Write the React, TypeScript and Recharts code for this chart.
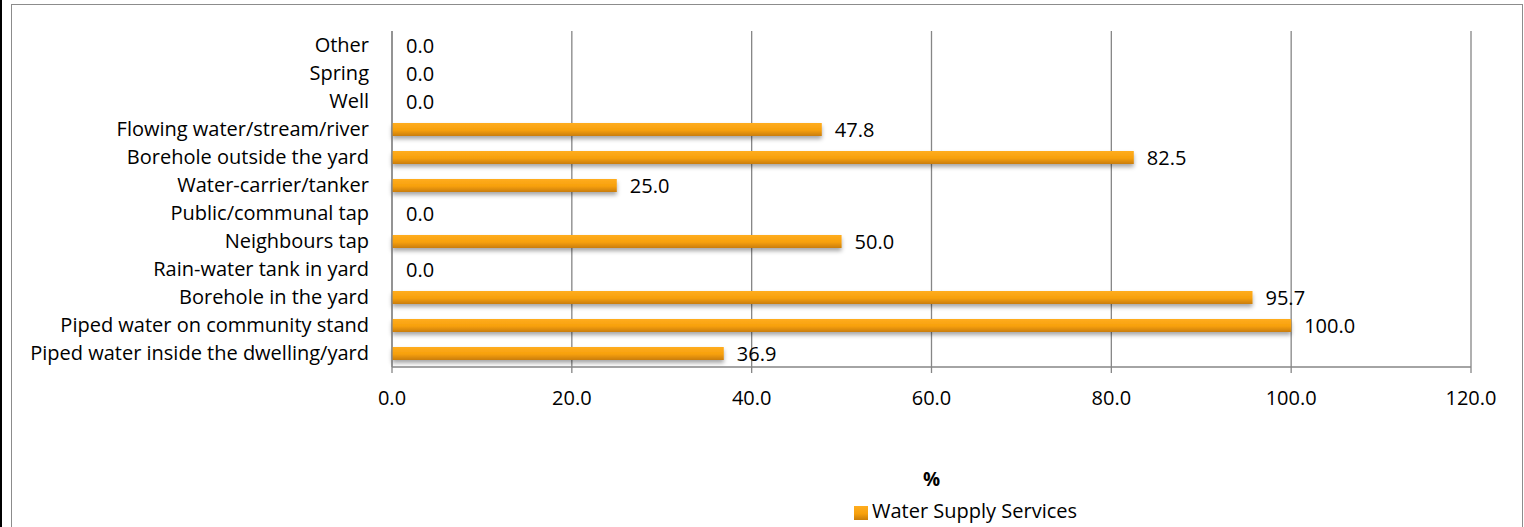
import { BarChart, Bar, XAxis, YAxis, CartesianGrid, LabelList, Legend, Cell } from 'recharts'

const categories = [
  'Other',
  'Spring',
  'Well',
  'Flowing water/stream/river',
  'Borehole outside the yard',
  'Water-carrier/tanker',
  'Public/communal tap',
  'Neighbours tap',
  'Rain-water tank in yard',
  'Borehole in the yard',
  'Piped water on community stand',
  'Piped water inside the dwelling/yard',
]
const waterSupply = [0, 0, 0, 47.8, 82.5, 25.0, 0, 50.0, 0, 95.7, 100.0, 36.9]
const xTicks = [0, 20, 40, 60, 80, 100, 120]

const data = categories.map((c, i) => ({ name: c, value: waterSupply[i] }))

const FONT = "'Open Sans', sans-serif"
const FS = 20
const GRID = '#868686'

export default function App() {
  return (
    <div style={{ position: 'relative', width: 1524, height: 527, background: '#fff', overflow: 'hidden', fontFamily: FONT }}>
      <style>{'body{margin:0}'}</style>
      <div style={{ position: 'absolute', left: 0, top: 0, width: 2, height: 527, background: '#000' }} />
      <div style={{ position: 'absolute', left: 11, top: 4, width: 1510, height: 540, border: '1.5px solid #8c8c8c' }} />
      <div style={{ position: 'absolute', left: 0, top: 0 }}>
        <BarChart width={1524} height={527} data={data} layout="vertical" barCategoryGap={0}
          margin={{ top: 31, right: 53, left: 0, bottom: 100 }}>
          <defs>
            <linearGradient id="gBar" x1="0" y1="0" x2="0" y2="1">
              <stop offset="0%" stopColor="#ffad1f" />
              <stop offset="55%" stopColor="#f7a00c" />
              <stop offset="100%" stopColor="#c97d08" />
            </linearGradient>
            <filter id="shadow" x="-5%" y="-50%" width="110%" height="220%">
              <feDropShadow dx="0" dy="3" stdDeviation="2" floodColor="#000" floodOpacity="0.35" />
            </filter>
          </defs>
          <CartesianGrid horizontal={false} stroke={GRID} strokeWidth={1.3} />
          <XAxis type="number" domain={[0, 120]} ticks={xTicks} interval={0} height={30}
            tickFormatter={(v: number) => v.toFixed(1)}
            axisLine={{ stroke: GRID, strokeWidth: 1.3 }} tickLine={{ stroke: GRID, strokeWidth: 1.3 }}
            tickSize={6} tickMargin={18}
            tick={{ fill: '#000', fontSize: FS, fontFamily: FONT }}
            label={{ value: '%', position: 'bottom', offset: 76, fill: '#000', fontSize: FS - 1, fontWeight: 700, fontFamily: FONT }} />
          <YAxis type="category" dataKey="name" width={392} interval={0}
            axisLine={{ stroke: GRID, strokeWidth: 1.3 }} tickLine={false} tickSize={0} tickMargin={23}
            tick={{ fill: '#000', fontSize: FS, fontFamily: FONT }} />
          <Legend verticalAlign="bottom" height={30} iconType="square" iconSize={14}
            wrapperStyle={{ bottom: 0, left: 854, width: 'auto', fontFamily: FONT, fontSize: FS }}
            formatter={(v: string) => <span style={{ color: '#000' }}>{v}</span>} />
          <Bar dataKey="value" name="Water Supply Services" fill="url(#gBar)" barSize={13} minPointSize={1}
            filter="url(#shadow)" isAnimationActive={false}>
            {data.map((d, i) => (
              <Cell key={i} fill={d.value > 0 ? 'url(#gBar)' : 'none'} filter={d.value > 0 ? 'url(#shadow)' : undefined} />
            ))}
            <LabelList dataKey="value" position="right" offset={13}
              formatter={(v: number) => v.toFixed(1)}
              style={{ fill: '#000', fontSize: FS, fontFamily: FONT }} />
          </Bar>
        </BarChart>
      </div>
    </div>
  )
}
